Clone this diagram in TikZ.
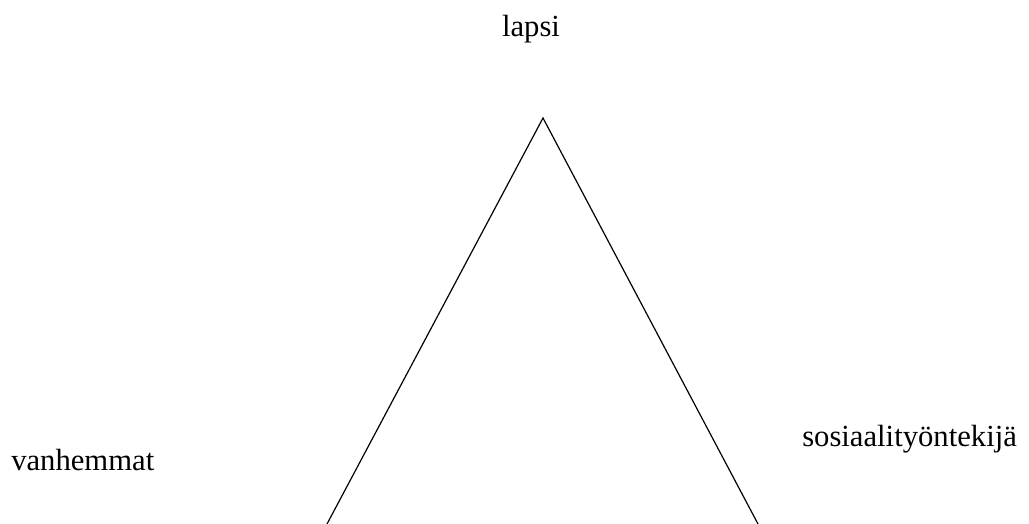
\documentclass[tikz,border=0pt]{standalone}
\usepackage{fontspec}
\setmainfont{Liberation Serif}
\usetikzlibrary{positioning}

\begin{document}
\begin{tikzpicture}[x=0.75pt, y=-0.75pt, every node/.style={font=\fontsize{23}{27}\selectfont, inner sep=0pt}]
  \useasboundingbox (0,0) rectangle (1029,524);
  \coordinate (apex) at (543,118);
  \coordinate (leftend) at (327,524);
  \coordinate (rightend) at (758,524);
  \node[anchor=base] (child) at (531,37) {lapsi};
  \node[anchor=base west] (parents) at (11,470) {vanhemmat};
  \node[anchor=base west] (worker) at (802,446) {sosiaalityöntekijä};

  \draw[line width=0.9pt] (leftend) -- (apex) -- (rightend);
\end{tikzpicture}
\end{document}
